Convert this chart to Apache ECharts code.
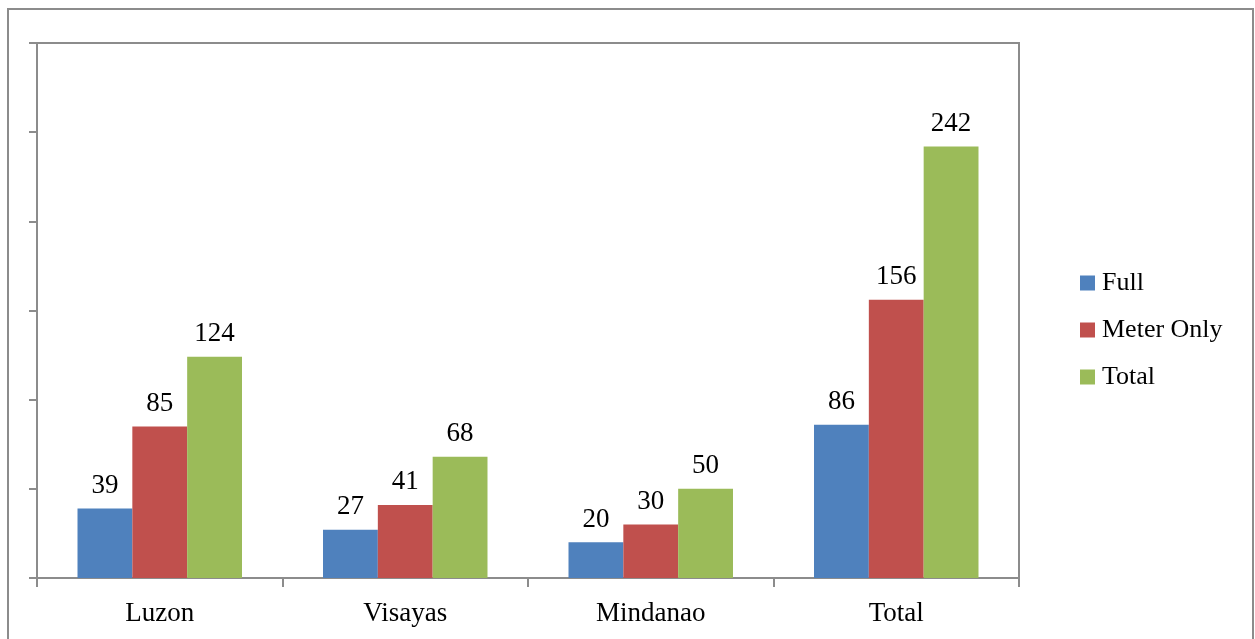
<!DOCTYPE html>
<html>
<head>
<meta charset="utf-8">
<script src="https://cdn.jsdelivr.net/npm/echarts@6/dist/echarts.min.js"></script>
<style>
  html, body { margin: 0; padding: 0; background: #fff; }
  #main { width: 1255px; height: 639px; }
</style>
</head>
<body>
<div id="main"></div>
<script>
  var categories = ['Luzon', 'Visayas', 'Mindanao', 'Total'];
  var fullData = [39, 27, 20, 86];
  var meterOnlyData = [85, 41, 30, 156];
  var totalData = [124, 68, 50, 242];

  var axisColor = '#8c8c8c',
      fontFamily = '"Liberation Serif", serif';

  var chart = echarts.init(document.getElementById('main'));

  var makeSeries = function(name, data, color) {
    return {
      name: name,
      type: 'bar',
      data: data,
      barGap: '0%',
      barCategoryGap: '33%',
      itemStyle: { color: color },
      label: {
        show: true,
        position: 'top',
        distance: 9,
        color: '#000',
        fontFamily: fontFamily,
        fontSize: 27
      }
    };
  };

  var option = {
    animation: false,
    graphic: [{
      type: 'rect',
      shape: { x: 8, y: 9, width: 1245, height: 700 },
      style: { fill: 'none', stroke: axisColor, lineWidth: 2 },
      silent: true
    }],
    grid: {
      left: 37,
      top: 43,
      right: 236,
      bottom: 61,
      show: true,
      borderColor: axisColor,
      borderWidth: 2
    },
    legend: {
      orient: 'vertical',
      left: 1080,
      top: 270,
      padding: 0,
      icon: 'rect',
      itemWidth: 15,
      itemHeight: 15,
      itemGap: 21,
      textStyle: {
        fontFamily: fontFamily,
        fontSize: 26,
        color: '#000',
        padding: [0, 0, 0, 2]
      },
      data: ['Full', 'Meter Only', 'Total']
    },
    xAxis: {
      type: 'category',
      data: categories,
      axisLine: { lineStyle: { color: axisColor, width: 2 } },
      axisTick: { show: true, length: 9, lineStyle: { color: axisColor, width: 2 } },
      axisLabel: {
        margin: 22,
        color: '#000',
        fontFamily: fontFamily,
        fontSize: 27
      }
    },
    yAxis: {
      type: 'value',
      min: 0,
      max: 300,
      interval: 50,
      axisLine: { show: true, lineStyle: { color: axisColor, width: 2 } },
      axisTick: { show: true, length: 8, lineStyle: { color: axisColor, width: 2 } },
      axisLabel: { show: false },
      splitLine: { show: false }
    },
    series: [
      makeSeries('Full', fullData, '#4f81bd'),
      makeSeries('Meter Only', meterOnlyData, '#c0504d'),
      makeSeries('Total', totalData, '#9bbb59')
    ]
  };

  chart.setOption(option);
</script>
</body>
</html>
